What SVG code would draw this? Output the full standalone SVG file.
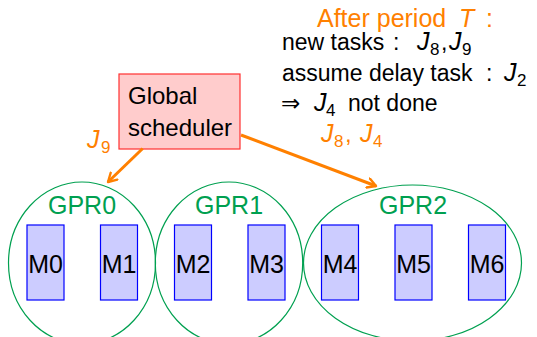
<svg xmlns="http://www.w3.org/2000/svg" width="537" height="337" viewBox="0 0 537 337">
<style>
text{font-family:"Liberation Sans","DejaVu Sans",sans-serif;font-size:24px}
.or{fill:#ff8000}
.gr{fill:#00a050}
.ell{fill:none;stroke:#00a050;stroke-width:1.2}
.m{fill:#ccccff;stroke:#0000ff;stroke-width:1.2}
.ml{font-size:25px;text-anchor:middle}
.gl{font-size:25px;text-anchor:middle}
.nt{font-size:23px}
.hd{font-size:25px}
.it{font-style:italic;font-size:25px}
.sub{font-size:17px}
.con{stroke:#ff8000;stroke-width:3;fill:none}
</style>
<defs>
<marker id="ah" viewBox="0 0 10 10" refX="8" refY="5" markerWidth="4" markerHeight="4" orient="auto" markerUnits="strokeWidth">
<path d="M1,1 L8,5 L1,9" fill="none" stroke="#ff8000" stroke-width="2" stroke-linecap="round" stroke-linejoin="round"/>
</marker>
</defs>
<g id="GPR0">
<ellipse class="ell" cx="82" cy="263" rx="73.5" ry="81"/>
<text class="gr gl" x="82" y="214">GPR0</text>
</g>
<g id="GPR1">
<ellipse class="ell" cx="229" cy="263" rx="73.7" ry="81"/>
<text class="gr gl" x="229" y="214">GPR1</text>
</g>
<g id="GPR2">
<ellipse class="ell" cx="412.5" cy="263" rx="109" ry="78"/>
<text class="gr gl" x="413" y="214">GPR2</text>
</g>
<g id="M0"><rect class="m" x="27" y="225" width="37" height="75"/><text class="ml" x="45.5" y="273">M0</text></g>
<g id="M1"><rect class="m" x="100.5" y="225" width="37" height="75"/><text class="ml" x="119" y="273">M1</text></g>
<g id="M2"><rect class="m" x="174.5" y="225" width="37" height="75"/><text class="ml" x="193" y="273">M2</text></g>
<g id="M3"><rect class="m" x="248" y="225" width="37" height="75"/><text class="ml" x="266.5" y="273">M3</text></g>
<g id="M4"><rect class="m" x="321.5" y="225" width="37" height="75"/><text class="ml" x="340" y="273">M4</text></g>
<g id="M5"><rect class="m" x="395" y="225" width="37" height="75"/><text class="ml" x="413.5" y="273">M5</text></g>
<g id="M6"><rect class="m" x="468.5" y="225" width="37" height="75"/><text class="ml" x="487" y="273">M6</text></g>
<g id="scheduler">
<rect x="119" y="74" width="121" height="75" fill="#ffcccc" stroke="#ff3030" stroke-width="1.2"/>
<text x="128" y="104">Global</text>
<text x="128" y="136">scheduler</text>
</g>
<g id="connectors">
<line class="con" x1="142.7" y1="148.5" x2="108" y2="182" marker-end="url(#ah)"/>
<line class="con" x1="241" y1="135" x2="376" y2="186" marker-end="url(#ah)"/>
<text class="or" y="148"><tspan class="it" x="87">J</tspan><tspan class="sub" x="101" y="153">9</tspan></text>
<text class="or" y="142"><tspan class="it" x="321">J</tspan><tspan class="sub" x="334" y="147">8</tspan><tspan x="345" y="142">,</tspan><tspan class="it" x="360">J</tspan><tspan class="sub" x="373" y="147">4</tspan></text>
</g>
<g id="notes">
<text class="or hd" y="27"><tspan x="317">After period</tspan><tspan class="it" x="459">T</tspan><tspan x="486">:</tspan></text>
<text class="nt" y="50"><tspan x="282">new tasks</tspan><tspan x="393">:</tspan><tspan class="it" x="417">J</tspan><tspan class="sub" x="430" y="55">8</tspan><tspan x="441" y="50">,</tspan><tspan class="it" x="449">J</tspan><tspan class="sub" x="462" y="55">9</tspan></text>
<text class="nt" y="81"><tspan x="282">assume delay task</tspan><tspan x="486">:</tspan><tspan class="it" x="504">J</tspan><tspan class="sub" x="517" y="86">2</tspan></text>
<text class="nt" y="111"><tspan x="281">⇒</tspan><tspan class="it" x="314">J</tspan><tspan class="sub" x="326" y="116">4</tspan><tspan x="348" y="111">not done</tspan></text>
</g>
</svg>
